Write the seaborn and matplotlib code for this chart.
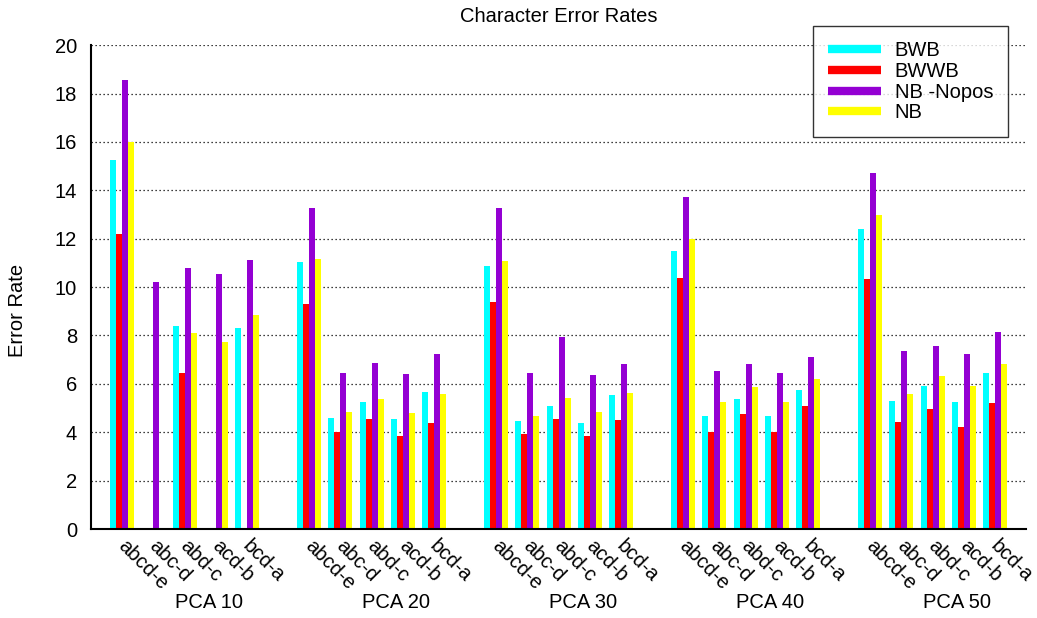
import numpy as np
import pandas as pd
import seaborn as sns
import matplotlib.pyplot as plt
from matplotlib.lines import Line2D
from matplotlib.transforms import blended_transform_factory, ScaledTranslation

# --- data (NaN = bar not drawn) ---
groups = ['PCA 10', 'PCA 20', 'PCA 30', 'PCA 40', 'PCA 50']
subsets = ['abcd-e', 'abc-d', 'abd-c', 'acd-b', 'bcd-a']
methods = ['BWB', 'BWWB', 'NB -Nopos', 'NB']
colors = ['#00ffff', '#ff0000', '#9400d3', '#ffff00']

bwb = [[15.25, np.nan, 8.37, np.nan, 8.29],
       [11.02, 4.60, 5.27, 4.56, 5.68],
       [10.85, 4.48, 5.10, 4.40, 5.52],
       [11.47, 4.69, 5.39, 4.69, 5.76],
       [12.38, 5.31, 5.93, 5.23, 6.43]]
bwwb = [[12.18, np.nan, 6.43, np.nan, np.nan],
        [9.32, 3.99, 4.56, 3.86, 4.40],
        [9.40, 3.94, 4.56, 3.86, 4.52],
        [10.36, 3.99, 4.77, 4.03, 5.10],
        [10.32, 4.44, 4.94, 4.23, 5.19]]
nb_nopos = [[18.55, 10.19, 10.77, 10.56, 11.10],
            [13.25, 6.43, 6.88, 6.39, 7.25],
            [13.25, 6.43, 7.92, 6.35, 6.84],
            [13.71, 6.55, 6.84, 6.43, 7.09],
            [14.70, 7.34, 7.55, 7.22, 8.13]]
nb = [[15.98, np.nan, 8.12, 7.72, 8.83],
      [11.18, 4.85, 5.39, 4.81, 5.56],
      [11.07, 4.69, 5.43, 4.85, 5.64],
      [11.97, 5.27, 5.85, 5.23, 6.18],
      [12.96, 5.60, 6.31, 5.93, 6.80]]

series = dict(zip(methods, [bwb, bwwb, nb_nopos, nb]))

rows = []
for m, vals in series.items():
    for gi, g in enumerate(groups):
        for si, s in enumerate(subsets):
            rows.append({'slot': f'{g}|{s}', 'method': m, 'rate': vals[gi][si]})
df = pd.DataFrame(rows).dropna()

# category order with an empty spacer slot between PCA groups
order = []
for gi, g in enumerate(groups):
    order += [f'{g}|{s}' for s in subsets]
    if gi < len(groups) - 1:
        order.append(f'gap{gi}')

sns.set_style('white')
plt.rcParams['font.family'] = ['Liberation Sans', 'DejaVu Sans']
plt.rcParams['text.color'] = 'black'
plt.rcParams['xtick.color'] = 'black'
plt.rcParams['ytick.color'] = 'black'
plt.rcParams['axes.labelcolor'] = 'black'

FS = 14.5

fig = plt.figure(figsize=(10.37, 6.18), dpi=100)
ax = fig.add_axes([0.0878, 0.144, 0.9016, 0.783])

sns.barplot(data=df, x='slot', y='rate', hue='method', order=order,
            hue_order=methods, palette=colors, width=0.77, errorbar=None,
            saturation=1, linewidth=0, legend=False, ax=ax)

ax.set_xlim(-1, 29)
ax.set_ylim(0, 20)
ax.set_yticks(range(0, 21, 2))
ax.tick_params(axis='y', length=0, pad=10, labelsize=FS)
ax.yaxis.grid(True, linestyle=(0, (1, 2.2)), color='black', linewidth=0.9)
ax.xaxis.grid(False)
ax.set_axisbelow(True)

# subset tick labels
pos = [gi * 6 + si for gi in range(len(groups)) for si in range(len(subsets))]
ax.set_xticks(pos)
ax.set_xticklabels(subsets * len(groups), rotation=-45, ha='left', va='top',
                   rotation_mode='anchor', fontsize=FS)
ax.tick_params(axis='x', length=0, pad=5)
ax.set_xlabel('')
shift = ScaledTranslation(4 / 72, 0, fig.dpi_scale_trans)
for lbl in ax.get_xticklabels():
    lbl.set_transform(lbl.get_transform() + shift)

# group labels under the subset labels
trans = blended_transform_factory(ax.transData, ax.transAxes)
for gi, g in enumerate(groups):
    ax.text(gi * 6 + 2.8, -0.151, g, transform=trans, ha='center', va='center',
            fontsize=FS)

for side in ['top', 'right']:
    ax.spines[side].set_visible(False)
for side in ['left', 'bottom']:
    ax.spines[side].set_color('black')
    ax.spines[side].set_linewidth(1.5)

ax.set_ylabel('Error Rate', fontsize=FS)
ax.yaxis.set_label_coords(-0.068, 0.452)
ax.set_title('Character Error Rates', fontsize=FS, pad=16.5)

handles = [Line2D([0], [0], color=c, lw=6, solid_capstyle='butt') for c in colors]
leg = ax.legend(handles, methods, loc='upper right', bbox_to_anchor=(0.981, 1.039),
                fontsize=FS, handlelength=2.6, labelspacing=0.08, handletextpad=0.7,
                borderpad=0.75, frameon=True, fancybox=False, borderaxespad=0)
leg.get_frame().set_edgecolor('black')
leg.get_frame().set_linewidth(1.0)

fig.savefig('out.png', dpi=100)
